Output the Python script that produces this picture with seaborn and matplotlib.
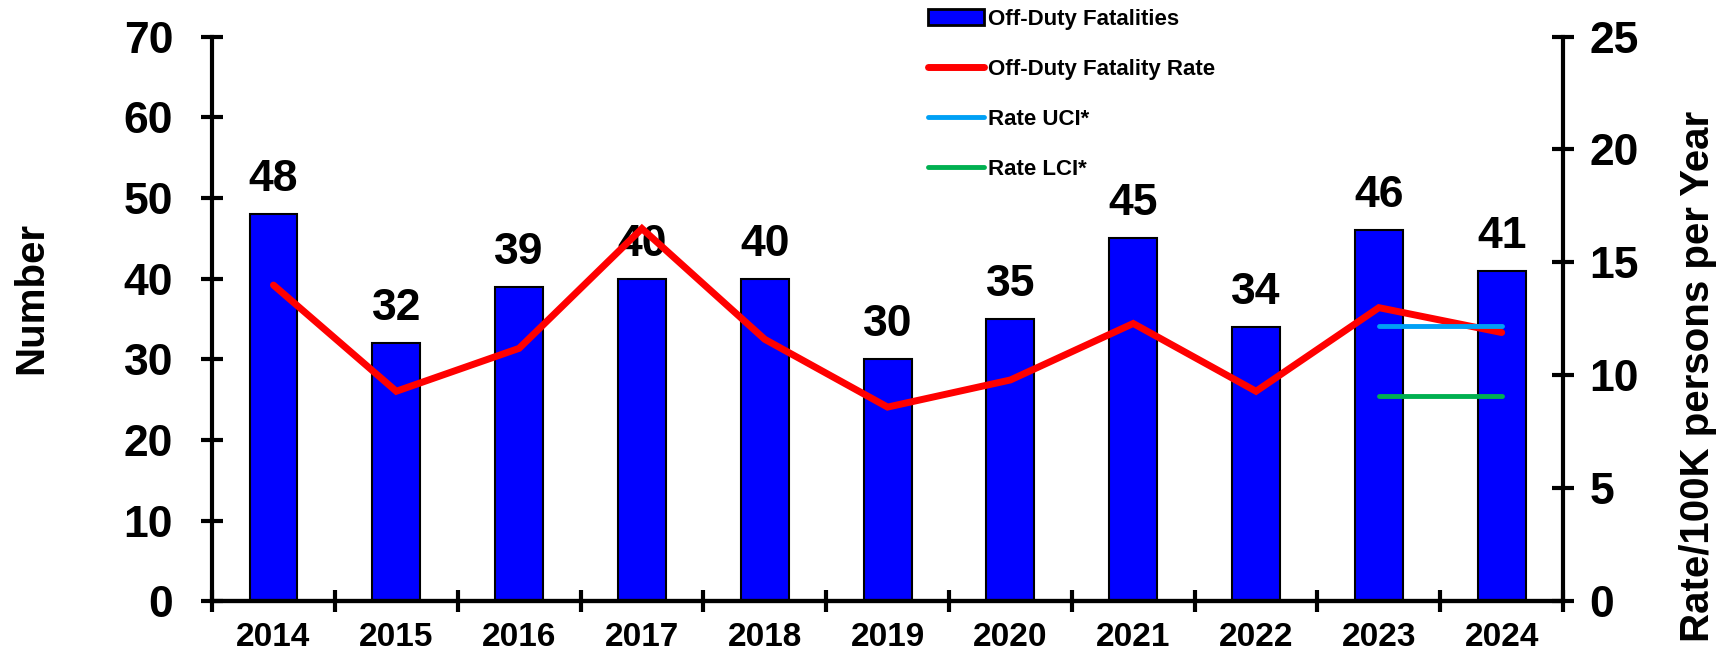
import numpy as np
import pandas as pd
import matplotlib
matplotlib.use('Agg')
import matplotlib.pyplot as plt
import seaborn as sns
from matplotlib.patches import Patch
from matplotlib.lines import Line2D

# Chart data
years = ['2014', '2015', '2016', '2017', '2018', '2019', '2020', '2021', '2022', '2023', '2024']
fatalities = [48, 32, 39, 40, 40, 30, 35, 45, 34, 46, 41]
rate = [14.0, 9.3, 11.2, 16.5, 11.6, 8.6, 9.8, 12.3, 9.3, 13.0, 11.9]
ci_years = ['2023', '2024']
rate_uci = [12.2, 12.2]
rate_lci = [9.1, 9.1]

sns.set_style('white')
plt.rcParams['font.family'] = ['Liberation Sans', 'DejaVu Sans']
plt.rcParams['font.weight'] = 'bold'
for key in ('text.color', 'axes.labelcolor', 'xtick.color', 'ytick.color'):
    plt.rcParams[key] = 'black'

df = pd.DataFrame({'year': years, 'fatalities': fatalities, 'rate': rate})
df['pos'] = np.arange(len(years))
ci_pos = [years.index(y) for y in ci_years]

fig = plt.figure(figsize=(17.31, 6.58), dpi=100)
ax = fig.add_axes([0.1225, 0.086, 0.7805, 0.8585])
ax2 = ax.twinx()

# bars on the left axis
sns.barplot(data=df, x='pos', y='fatalities', ax=ax, color='#0000FF', saturation=1,
            width=0.39, edgecolor='black', linewidth=1.5, native_scale=True)
ax.bar_label(ax.containers[0], fontsize=32, fontweight='bold', padding=10, color='black')

# rate lines on the right axis
sns.lineplot(data=df, x='pos', y='rate', ax=ax2, color='#FF0000', linewidth=5,
             solid_capstyle='round', solid_joinstyle='miter')
sns.lineplot(x=ci_pos, y=rate_uci, ax=ax2, color='#00A0F5', linewidth=3.5, solid_capstyle='round')
sns.lineplot(x=ci_pos, y=rate_lci, ax=ax2, color='#00B050', linewidth=3.5, solid_capstyle='round')

ax.set_xlim(-0.5, len(years) - 0.5)
ax.set_ylim(0, 70)
ax2.set_ylim(0, 25)
ax.set_yticks(range(0, 71, 10))
ax2.set_yticks(range(0, 26, 5))
ax.set_xticks(df['pos'])
ax.set_xticklabels(years)
ax.set_xticks(np.arange(-0.5, len(years), 1), minor=True)

ax.tick_params(axis='x', which='major', length=0, labelsize=24, pad=15)
ax.tick_params(axis='x', which='minor', direction='inout', length=16, width=3, bottom=True)
ax.tick_params(axis='y', direction='inout', length=16, width=3, labelsize=32, pad=20, left=True)
ax2.tick_params(axis='y', direction='inout', length=16, width=3, labelsize=32, pad=11, right=True)
for lab in ax.get_xticklabels() + ax.get_yticklabels() + ax2.get_yticklabels():
    lab.set_fontweight('bold')

for a in (ax, ax2):
    a.spines['top'].set_visible(False)
    for s in ('left', 'right', 'bottom'):
        a.spines[s].set_linewidth(3)
        a.spines[s].set_color('black')
ax.spines['right'].set_visible(False)
ax2.spines['left'].set_visible(False)

ax.set_xlabel('')
ax.set_ylabel('Number', fontsize=29, fontweight='bold')
ax2.set_ylabel('Rate/100K persons per Year', fontsize=29, fontweight='bold')
# axis titles sit a little off-centre in the original
ax.yaxis.set_label_coords(-0.134, 0.537)
ax.yaxis.label.set_verticalalignment('center')
ax2.yaxis.set_label_coords(1.1, 0.398)
ax2.yaxis.label.set_verticalalignment('center')

handles = [Patch(facecolor='#0000FF', edgecolor='black', linewidth=2),
           Line2D([], [], color='#FF0000', linewidth=5, solid_capstyle='round'),
           Line2D([], [], color='#00A0F5', linewidth=3.5, solid_capstyle='round'),
           Line2D([], [], color='#00B050', linewidth=3.5, solid_capstyle='round')]
labels = ['Off-Duty Fatalities', 'Off-Duty Fatality Rate', 'Rate UCI*', 'Rate LCI*']
fig.legend(handles, labels, loc='upper left', bbox_to_anchor=(0.531, 1.0), frameon=False,
           prop={'size': 16, 'weight': 'bold'}, labelspacing=1.3, handlelength=2.5,
           handletextpad=0.2, borderaxespad=0)

fig.savefig('out.png', dpi=100)
